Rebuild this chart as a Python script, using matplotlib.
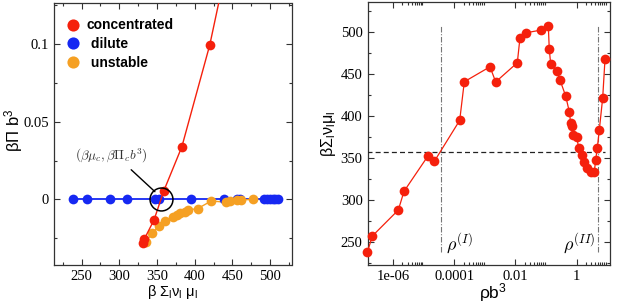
import numpy as np
import matplotlib
matplotlib.use('Agg')
import matplotlib.pyplot as plt
from matplotlib.ticker import FixedLocator, FixedFormatter, MultipleLocator, NullFormatter

plt.rcParams['mathtext.fontset'] = 'custom'
plt.rcParams['mathtext.rm'] = 'Liberation Sans'
plt.rcParams['mathtext.it'] = 'Liberation Sans:italic'
plt.rcParams['font.family'] = ['Liberation Sans', 'DejaVu Sans']

RED = '#f5200c'
BLUE = '#1628f2'
ORANGE = '#f5a023'
SPINE = '#333333'

# left panel: beta Pi b^3 against beta sum nu mu
dil_mu = [238, 257, 288, 310, 347, 352, 395, 439, 456, 460, 492, 496, 500, 504, 507, 510]
dil_pi = [0.0] * len(dil_mu)
conc_mu = [331, 333, 346, 359, 383, 420, 468]
conc_pi = [-0.0284, -0.0258, -0.0134, 0.0054, 0.0339, 0.0995, 0.209]
uns_mu = [335, 344, 352, 361, 371, 376, 380, 387, 391, 404, 422, 441, 447, 456, 461, 478]
uns_pi = [-0.0274, -0.0219, -0.0172, -0.0140, -0.0112, -0.0101, -0.0090, -0.0080,
          -0.0069, -0.0060, -0.0011, -0.0019, -0.0011, -0.0005, -0.0005, 0.0]
crit_mu, crit_pi = 355.6, 0.0
crit_label = r'$(\beta\mu_c, \beta\Pi_c b^3)$'

# right panel: beta sum nu mu against rho b^3
rho = [1.41e-7, 2.06e-7, 1.46e-6, 2.24e-6, 1.34e-5, 2.20e-5, 1.49e-4, 2.11e-4,
       1.46e-3, 2.25e-3, 0.01146, 0.01403, 0.0221, 0.0684, 0.1186, 0.1276,
       0.1419, 0.2234, 0.2864, 0.4395, 0.5768, 0.6412, 0.7228, 0.7798,
       1.007, 1.172, 1.469, 1.746, 2.143, 2.897, 3.793, 4.217, 4.764, 5.534,
       7.145, 8.511]
mu_rho = [238, 257.5, 288.5, 310.7, 352.4, 346.4, 395.2, 441.2, 459, 441, 463.8,
          493.6, 499.5, 502.7, 507.5, 479.8, 462.3, 453.9, 443.2, 424.2, 405.5,
          392, 388, 377.7, 375, 362.6, 354, 345.2, 338, 334, 334, 348, 362.6,
          383.7, 422, 468]
mu_coex = 358
rho_1 = 3.63e-5
rho_2 = 5.0
rho_ticks = [1e-6, 1e-4, 1e-2, 1]
rho_ticklabels = ['1e-06', '0.0001', '0.01', '1']
rho_minor = [k * 10.0 ** n for n in (-6, -4, -2, 0) for k in range(2, 10)]

MS = 7.0

fig = plt.figure(figsize=(6.17, 3.04), dpi=100)
ax1 = fig.add_axes([54 / 617, 39 / 304, 237.5 / 617, 262.3 / 304])
ax2 = fig.add_axes([367.5 / 617, 39 / 304, 242.5 / 617, 263.3 / 304])


def style(ax):
    for s in ax.spines.values():
        s.set_color(SPINE)
        s.set_linewidth(0.9)
    ax.tick_params(which='both', direction='in', top=True, right=True,
                   color=SPINE, width=0.8, pad=3.5)
    ax.tick_params(which='major', length=4.5)
    ax.tick_params(which='minor', length=2.3)
    for lab in ax.get_xticklabels() + ax.get_yticklabels():
        lab.set_fontfamily('Liberation Serif')
        lab.set_fontsize(10.5)


# ---- left
ax1.plot(dil_mu, dil_pi, '-', color=BLUE, lw=1.3, zorder=2)
ax1.plot(uns_mu, uns_pi, '-', color=ORANGE, lw=1.0, zorder=2)
ax1.plot(conc_mu, conc_pi, '-', color=RED, lw=1.0, zorder=4)
ax1.plot(dil_mu, dil_pi, 'o', color=BLUE, ms=MS, mew=0, zorder=3)
ax1.plot(uns_mu, uns_pi, 'o', color=ORANGE, ms=MS, mew=0, zorder=3)
ax1.plot(conc_mu, conc_pi, 'o', color=RED, ms=MS, mew=0, zorder=4)
ax1.plot(crit_mu, crit_pi, 'o', ms=16.5, mfc='none', mec='k', mew=1.1, zorder=6)
ax1.annotate(crit_label, xy=(347.2, 0.0049), xytext=(289.8, 0.0279),
             ha='center', va='center', fontsize=9.5, color='#333333',
             math_fontfamily='cm',
             arrowprops=dict(arrowstyle='-', color='k', lw=1.0,
                             relpos=(0.7, 0.0), shrinkA=2, shrinkB=0))

h_c, = ax1.plot([], [], 'o', color=RED, ms=MS, mew=0)
h_d, = ax1.plot([], [], 'o', color=BLUE, ms=MS, mew=0)
h_u, = ax1.plot([], [], 'o', color=ORANGE, ms=MS, mew=0)
ax1.legend([h_c, h_d, h_u], ['concentrated', ' dilute', ' unstable'],
           loc='upper left', bbox_to_anchor=(0.055, 0.94), frameon=False,
           markerscale=1.25, handlelength=0.9, handletextpad=0.5,
           borderpad=0, borderaxespad=0, labelspacing=0.35,
           prop={'family': 'Liberation Sans', 'weight': 'bold', 'size': 10})

ax1.set_xlim(213.3, 528.5)
ax1.set_ylim(-0.0424, 0.1268)
ax1.xaxis.set_major_locator(MultipleLocator(50))
ax1.xaxis.set_minor_locator(FixedLocator([225, 275, 325, 375, 425, 475, 525]))
ax1.yaxis.set_major_locator(FixedLocator([0, 0.05, 0.1]))
ax1.yaxis.set_major_formatter(FixedFormatter(['0', '0.05', '0.1']))
ax1.yaxis.set_minor_locator(FixedLocator([-0.025, 0.025, 0.075, 0.125]))
style(ax1)
ax1.set_xlabel(r'β Σ$_\mathregular{l}$ν$_\mathregular{l}$ μ$_\mathregular{l}$', fontsize=10.5)
ax1.set_ylabel(r'βΠ b$^3$', fontsize=12)
ax1.xaxis.set_label_coords(0.5, -0.068)
ax1.yaxis.set_label_coords(-0.122, 0.515)

# ---- right
ax2.set_xscale('log')
ax2.plot(rho, mu_rho, '-', color=RED, lw=0.9, marker='o', ms=MS, mew=0,
         clip_on=False, zorder=4)
ax2.hlines(mu_coex, rho[0], rho[-1], colors='#222222', linestyles=(0, (4, 2.5)),
           lw=0.9, zorder=3)
ax2.vlines([rho_1, rho_2], 238, 507, colors='#777777',
           linestyles=(0, (5, 1.5, 1, 1.5)), lw=0.8, zorder=3)
ax2.text(rho_1 * 1.45, 248, r'$\rho^{(I)}$', math_fontfamily='cm', fontsize=13,
         va='center', ha='left')
ax2.text(0.37, 248, r'$\rho^{(II)}$', math_fontfamily='cm', fontsize=13,
         va='center', ha='left')

ax2.set_xlim(1.43e-7, 12.4)
ax2.set_ylim(223, 536.5)
ax2.xaxis.set_major_locator(FixedLocator(rho_ticks))
ax2.xaxis.set_major_formatter(FixedFormatter(rho_ticklabels))
ax2.xaxis.set_minor_locator(FixedLocator(rho_minor))
ax2.xaxis.set_minor_formatter(NullFormatter())
ax2.yaxis.set_major_locator(MultipleLocator(50))
ax2.yaxis.set_minor_locator(MultipleLocator(25))
style(ax2)
ax2.set_xlabel(r'ρb$^3$', fontsize=12.5)
ax2.set_ylabel(r'βΣ$_\mathregular{l}$ν$_\mathregular{l}$μ$_\mathregular{l}$', fontsize=11.5)
ax2.xaxis.set_label_coords(0.519, -0.06)
ax2.yaxis.set_label_coords(-0.122, 0.5)

fig.savefig('out.png', dpi=100)
